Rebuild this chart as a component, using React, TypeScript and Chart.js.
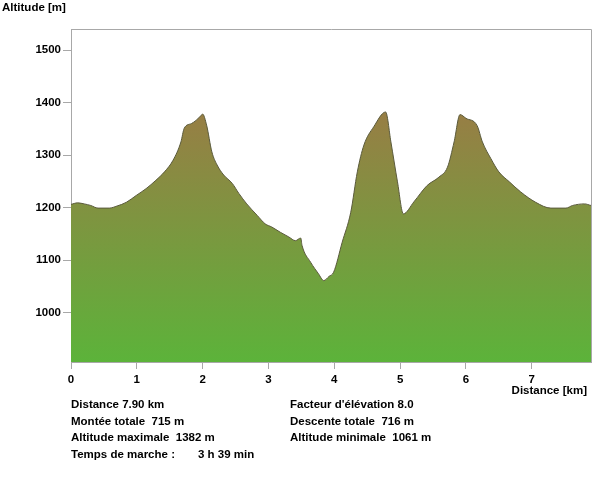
import React, { useEffect, useRef } from "react";
import { Chart, registerables } from "chart.js";

Chart.register(...registerables);

const distanceKm = [
  0.0, 0.1, 0.2, 0.3, 0.41, 0.58, 0.7, 0.84, 0.99, 1.14, 1.29, 1.42, 1.55, 1.67, 1.72, 1.83, 1.9, 1.99,
  2.0, 2.06, 2.14, 2.22, 2.32, 2.45, 2.55, 2.67, 2.83, 2.95, 3.05, 3.18, 3.31, 3.41, 3.49, 3.51, 3.64,
  3.76, 3.84, 3.92, 3.99, 4.12, 4.25, 4.35, 4.45, 4.6, 4.78, 4.86, 4.96, 5.05, 5.21, 5.41, 5.59, 5.72,
  5.82, 5.91, 6.0, 6.17, 6.25, 6.38, 6.5, 6.66, 6.83, 7.06, 7.29, 7.52, 7.62, 7.8, 7.9,
];
const altitudeM = [
  1206, 1209, 1207, 1204, 1199, 1199, 1203, 1210, 1223, 1236, 1252, 1268, 1290, 1325, 1351, 1360, 1366, 1377,
  1378, 1357, 1306, 1281, 1262, 1246, 1227, 1207, 1185, 1169, 1163, 1153, 1144, 1137, 1142, 1128, 1096,
  1074, 1061, 1069, 1077, 1134, 1191, 1268, 1319, 1354, 1382, 1325, 1249, 1188, 1211, 1242, 1258, 1277,
  1325, 1377, 1370, 1356, 1325, 1293, 1268, 1249, 1230, 1210, 1199, 1199, 1204, 1207, 1204,
];
const xTickValues = [0, 1, 2, 3, 4, 5, 6, 7];
const yTickValues = [1000, 1100, 1200, 1300, 1400, 1500];

const statsLeft = [
  "Distance 7.90 km",
  "Montée totale  715 m",
  "Altitude maximale  1382 m",
  "Temps de marche :",
];
const statsRight = [
  "Facteur d'élévation 8.0",
  "Descente totale  716 m",
  "Altitude minimale  1061 m",
];
const walkTime = "3 h 39 min";

const FONT_FAMILY = '"Liberation Sans", Arial, sans-serif';

export default function App() {
  const canvasRef = useRef<HTMLCanvasElement | null>(null);

  useEffect(() => {
    const canvas = canvasRef.current;
    if (!canvas) return;
    const framePlugin = {
      id: "frame",
      afterDatasetsDraw(chart: any) {
        const { ctx, chartArea } = chart;
        ctx.save();
        ctx.strokeStyle = "#a8a8a8";
        ctx.lineWidth = 1;
        ctx.beginPath();
        ctx.moveTo(chartArea.left, Math.round(chartArea.top) + 0.5);
        ctx.lineTo(Math.round(chartArea.right) + 0.5, Math.round(chartArea.top) + 0.5);
        ctx.lineTo(Math.round(chartArea.right) + 0.5, chartArea.bottom);
        ctx.stroke();
        ctx.restore();
      },
    };
    const chart = new Chart(canvas, {
      type: "line",
      data: {
        datasets: [
          {
            data: distanceKm.map((x, i) => ({ x, y: altitudeM[i] })),
            fill: "start",
            backgroundColor: (c: any) => {
              const ch = c.chart;
              const area = ch.chartArea;
              if (!area) return "#7a9a40";
              const g = ch.ctx.createLinearGradient(0, area.top, 0, area.bottom);
              g.addColorStop(0, "#ab6c48");
              g.addColorStop(1, "#5cb33a");
              return g;
            },
            borderColor: "#5a5a3c",
            borderWidth: 1,
            pointRadius: 0,
            cubicInterpolationMode: "monotone",
          },
        ],
      },
      options: {
        animation: false,
        responsive: false,
        maintainAspectRatio: false,
        layout: { padding: { top: 29, right: 20, left: 0, bottom: 0 } },
        plugins: { legend: { display: false }, tooltip: { enabled: false } },
        scales: {
          x: {
            type: "linear",
            min: 0,
            max: 7.9,
            afterBuildTicks: (s: any) => {
              s.ticks = xTickValues.map((v) => ({ value: v }));
            },
            afterFit: (s: any) => {
              s.height = 138;
            },
            grid: { drawOnChartArea: false, tickLength: 7, color: "#a8a8a8" },
            border: { color: "#a8a8a8" },
            ticks: {
              padding: 4,
              color: "#000",
              maxRotation: 0,
              autoSkip: false,
              callback: (v: any) => String(v),
              font: { family: FONT_FAMILY, size: 11.5, weight: "bold" },
            },
          },
          y: {
            min: 906,
            max: 1540,
            afterBuildTicks: (s: any) => {
              s.ticks = yTickValues.map((v) => ({ value: v }));
            },
            afterFit: (s: any) => {
              s.width = 71;
            },
            grid: { drawOnChartArea: false, tickLength: 8, color: "#a8a8a8" },
            border: { color: "#a8a8a8" },
            ticks: {
              padding: 2,
              color: "#000",
              callback: (v: any) => String(v),
              font: { family: FONT_FAMILY, size: 11.5, weight: "bold" },
            },
          },
        },
      },
      plugins: [framePlugin],
    } as any);
    return () => chart.destroy();
  }, []);

  const textStyle: React.CSSProperties = {
    position: "absolute",
    fontFamily: FONT_FAMILY,
    fontWeight: "bold",
    fontSize: 11.5,
    lineHeight: "14px",
    color: "#000",
    whiteSpace: "pre",
  };
  const rowCenters = [404, 421, 437, 454];

  return (
    <div style={{ position: "absolute", left: 0, top: 0, width: 611, height: 500, background: "#fff" }}>
      <canvas ref={canvasRef} width={611} height={500} style={{ width: 611, height: 500, display: "block" }} />
      <div style={{ ...textStyle, left: 2, top: 0 }}>Altitude [m]</div>
      <div style={{ ...textStyle, right: 611 - 587, top: 383 }}>Distance [km]</div>
      {statsLeft.map((t, i) => (
        <div key={"l" + i} style={{ ...textStyle, left: 71, top: rowCenters[i] - 7 }}>
          {t}
        </div>
      ))}
      <div style={{ ...textStyle, left: 198, top: rowCenters[3] - 7 }}>{walkTime}</div>
      {statsRight.map((t, i) => (
        <div key={"r" + i} style={{ ...textStyle, left: 290, top: rowCenters[i] - 7 }}>
          {t}
        </div>
      ))}
    </div>
  );
}
